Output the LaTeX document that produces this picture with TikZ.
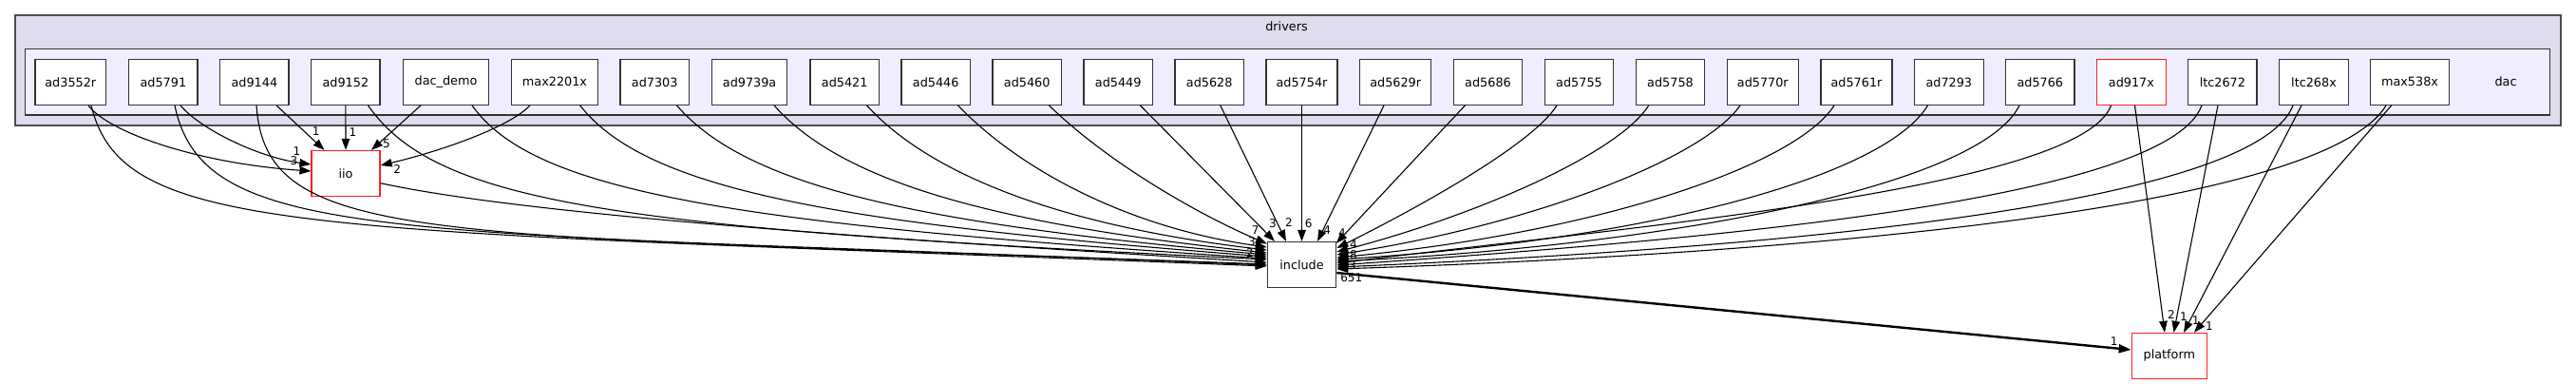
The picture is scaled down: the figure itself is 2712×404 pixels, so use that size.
\documentclass[tikz,border=0pt]{standalone}
\usepackage{fontspec}
\setmainfont{DejaVu Sans}
\usetikzlibrary{arrows.meta}
\definecolor{outerfill}{HTML}{DDDDEE}
\definecolor{innerfill}{HTML}{EEEEFF}
\definecolor{clborder}{HTML}{4D4D55}
\definecolor{nodeborder}{HTML}{333333}
\definecolor{redborder}{HTML}{FF2020}
\tikzset{
  dirbox/.style={draw=nodeborder, line width=1.2pt, fill=white, minimum height=48pt, inner sep=0pt, font=\fontsize{12.8pt}{15pt}\selectfont},
  redbox/.style={dirbox, draw=redborder},
  lbl/.style={inner sep=0pt, font=\fontsize{12pt}{14pt}\selectfont},
  cltext/.style={inner sep=0pt, font=\fontsize{12.8pt}{15pt}\selectfont},
  edge/.style={draw=black, line width=1.1pt, -{Triangle[length=12pt,width=8.5pt]}},
  boldedge/.style={draw=black, line width=2.4pt, -{Triangle[length=13pt,width=9pt]}}
}
\begin{document}
\begin{tikzpicture}[x=1pt,y=-1pt]
\useasboundingbox (0,0) rectangle (2712,404);
% clusters
\draw[fill=outerfill, draw=clborder, line width=1.8pt] (15.6,15.7) rectangle (2695.7,131.7);
\node[cltext] (drv) at (1354.5,27.5) {drivers};
\draw[fill=innerfill, draw=black!80, line width=1.3pt] (26.8,51.7) rectangle (2684.8,121);
\node[cltext] (daclbl) at (2638,86) {dac};
% top row
\node[dirbox, minimum width=74.6pt] (a3552r) at (74.3,86.3) {ad3552r};
\node[dirbox, minimum width=72.3pt] (a5791) at (171.9,86.3) {ad5791};
\node[dirbox, minimum width=72.3pt] (a9144) at (267.9,86.3) {ad9144};
\node[dirbox, minimum width=72.3pt] (a9152) at (363.9,86.3) {ad9152};
\node[dirbox, minimum width=89.7pt] (dacdemo) at (469.5,86.3) {dac\_demo};
\node[dirbox, minimum width=91pt] (m2201x) at (584,86.3) {max2201x};
\node[dirbox, minimum width=72.4pt] (a7303) at (689.2,86.3) {ad7303};
\node[dirbox, minimum width=79pt] (a9739a) at (789.1,86.3) {ad9739a};
\node[dirbox, minimum width=72.4pt] (a5421) at (889.2,86.3) {ad5421};
\node[dirbox, minimum width=72.4pt] (a5446) at (985.2,86.3) {ad5446};
\node[dirbox, minimum width=72.4pt] (a5460) at (1081.2,86.3) {ad5460};
\node[dirbox, minimum width=72.4pt] (a5449) at (1177.2,86.3) {ad5449};
\node[dirbox, minimum width=72.4pt] (a5628) at (1273.2,86.3) {ad5628};
\node[dirbox, minimum width=75pt] (a5754r) at (1370.5,86.3) {ad5754r};
\node[dirbox, minimum width=75pt] (a5629r) at (1469.2,86.3) {ad5629r};
\node[dirbox, minimum width=72.3pt] (a5686) at (1566.5,86.3) {ad5686};
\node[dirbox, minimum width=72.3pt] (a5755) at (1662.5,86.3) {ad5755};
\node[dirbox, minimum width=72.3pt] (a5758) at (1758.5,86.3) {ad5758};
\node[dirbox, minimum width=75pt] (a5770r) at (1855.8,86.3) {ad5770r};
\node[dirbox, minimum width=75pt] (a5761r) at (1954.5,86.3) {ad5761r};
\node[dirbox, minimum width=72.7pt] (a7293) at (2051.8,86.3) {ad7293};
\node[dirbox, minimum width=72.2pt] (a5766) at (2147.8,86.3) {ad5766};
\node[redbox, minimum width=72.7pt] (a917x) at (2243.9,86.3) {ad917x};
\node[dirbox, minimum width=72.2pt] (l2672) at (2339.9,86.3) {ltc2672};
\node[dirbox, minimum width=72.7pt] (l268x) at (2436,86.3) {ltc268x};
\node[dirbox, minimum width=83pt] (m538x) at (2537,86.3) {max538x};
% lower nodes
\node[redbox, minimum width=72pt] (iio) at (364,182.5) {iio};
\node[dirbox, minimum width=72.4pt] (inc) at (1370.5,278.5) {include};
\node[redbox, minimum width=79pt] (plat) at (2283.8,374.4) {platform};
% edges to iio
\draw[edge] (93,0 |- a3552r.south) .. controls (115,140) and (210,172) .. (iio.west |- 0,180);
\draw[edge] (190,0 |- a5791.south) .. controls (210,135) and (270,165) .. (iio.west |- 0,173);
\draw[edge] (291,0 |- a9144.south) -- (341.5,0 |- iio.north);
\draw[edge] (a9152.south) -- (iio.north);
\draw[edge] (443,0 |- dacdemo.south) -- (391,0 |- iio.north);
\draw[edge] (558,0 |- m2201x.south) .. controls (535,135) and (460,160) .. (iio.east |- 0,174);
% edges from left to include
\draw[edge] (96,0 |- a3552r.south) .. controls (130,250) and (320,240) .. (inc.west |- 0,280);
\draw[edge] (184,0 |- a5791.south) .. controls (215,260) and (420,240) .. (inc.west |- 0,279);
\draw[edge] (270,0 |- a9144.south) .. controls (280,260) and (450,245) .. (inc.west |- 0,278);
\draw[edge] (iio.east |- 0,192.7) .. controls (550,225) and (900,250) .. (inc.west |- 0,276);
\draw[edge] (387.5,0 |- a9152.south) .. controls (460,215) and (650,240) .. (inc.west |- 0,273);
\draw[edge] (497,0 |- dacdemo.south) .. controls (560,200) and (760,235) .. (inc.west |- 0,272);
\draw[edge] (610.7,0 |- m2201x.south) .. controls (680,200) and (880,235) .. (inc.west |- 0,270);
\draw[edge] (712.5,0 |- a7303.south) .. controls (785,195) and (960,235) .. (inc.west |- 0,268);
\draw[edge] (815,0 |- a9739a.south) .. controls (885,190) and (1040,235) .. (inc.west |- 0,266);
\draw[edge] (912.5,0 |- a5421.south) .. controls (980,185) and (1120,238) .. (inc.west |- 0,263);
\draw[edge] (1008.5,0 |- a5446.south) .. controls (1075,180) and (1190,240) .. (inc.west |- 0,260);
\draw[edge] (1104.5,0 |- a5460.south) .. controls (1165,170) and (1260,225) .. (1334,256.5);
\draw[edge] (1200.4,0 |- a5449.south) -- (1342,0 |- inc.north);
\draw[edge] (1284.8,0 |- a5628.south) -- (1354,0 |- inc.north);
\draw[edge] (a5754r.south) -- (inc.north);
\draw[edge] (1457,0 |- a5629r.south) -- (1387,0 |- inc.north);
\draw[edge] (1542.4,0 |- a5686.south) -- (1406.7,256);
% edges from right to include
\draw[edge] (1639,0 |- a5755.south) .. controls (1615,150) and (1500,215) .. (inc.east |- 0,261);
\draw[edge] (1735.7,0 |- a5758.south) .. controls (1705,160) and (1560,225) .. (inc.east |- 0,265);
\draw[edge] (1832,0 |- a5770r.south) .. controls (1795,165) and (1620,235) .. (inc.east |- 0,268);
\draw[edge] (1931,0 |- a5761r.south) .. controls (1890,175) and (1680,245) .. (inc.east |- 0,271);
\draw[edge] (2029.5,0 |- a7293.south) .. controls (1985,185) and (1740,252) .. (inc.east |- 0,273);
\draw[edge] (2126,0 |- a5766.south) .. controls (2085,195) and (1760,258) .. (inc.east |- 0,275);
\draw[edge] (2222.5,0 |- a917x.south) .. controls (2190,200) and (1700,240) .. (inc.east |- 0,277);
\draw[edge] (2318,0 |- l2672.south) .. controls (2280,215) and (1750,255) .. (inc.east |- 0,279);
\draw[edge] (2414,0 |- l268x.south) .. controls (2370,225) and (1780,265) .. (inc.east |- 0,281);
\draw[edge] (2512,0 |- m538x.south) .. controls (2440,230) and (1800,270) .. (inc.east |- 0,283);
% edges to platform
\draw[edge] (2247.5,0 |- a917x.south) -- (2279,0 |- plat.north);
\draw[edge] (2335,0 |- l2672.south) -- (2288.5,0 |- plat.north);
\draw[edge] (2423,0 |- l268x.south) -- (2299,0 |- plat.north);
\draw[edge] (2517.7,0 |- m538x.south) -- (2310,0 |- plat.north);
\draw[boldedge] (inc.east |- 0,287) -- (plat.west |- 0,368);
% labels at iio
\node[lbl] (li1) at (309.5,169) {3};
\node[lbl] (li2) at (312.5,159.3) {1};
\node[lbl] (li3) at (332.6,138.3) {1};
\node[lbl] (li4) at (371.4,139.3) {1};
\node[lbl] (li5) at (407,151.7) {5};
\node[lbl] (li6) at (418.3,178.3) {2};
% labels at include
\node[lbl] (lc1) at (1321.7,241.7) {7};
\node[lbl] (lc2) at (1340,234.7) {3};
\node[lbl] (lc3) at (1357,233.7) {2};
\node[lbl] (lc4) at (1377.7,235.3) {6};
\node[lbl] (lc5) at (1397.3,242) {4};
\node[lbl] (lc6) at (1413,245.3) {4};
\node[lbl] (lc7) at (1425,256.7) {4};
\node[lbl] (lc8) at (1425,268.3) {8};
\node[lbl] (lc9) at (1422.7,292.3) {651};
\node[lbl] (lc10) at (1318,254.3) {3};
\node[lbl] (lc11) at (1316,266) {2};
\node[lbl] (lc13) at (1424,279.5) {3};
% labels at platform
\node[lbl] (lp1) at (2225.7,359) {1};
\node[lbl] (lp2) at (2286,330.7) {2};
\node[lbl] (lp3) at (2299,333.3) {1};
\node[lbl] (lp4) at (2311.7,336.7) {1};
\node[lbl] (lp5) at (2326,342.7) {1};
\end{tikzpicture}
\end{document}
